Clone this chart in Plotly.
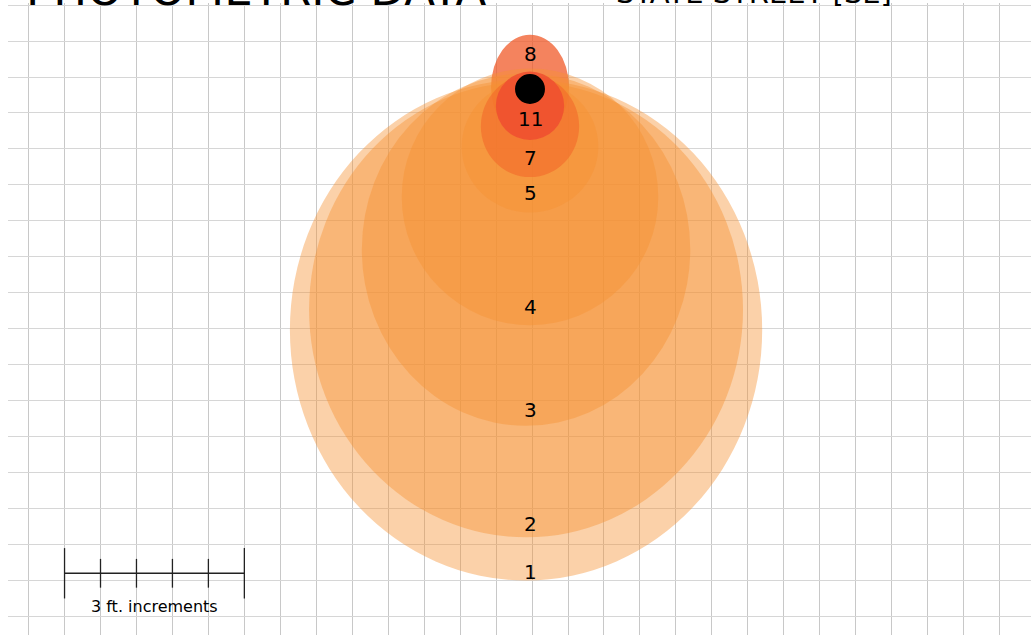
import plotly.graph_objects as go

# ---- data (feet, luminaire at origin) ----
levels = ["1", "2", "3", "4", "5", "7", "8", "11"]
center_x = [-0.33, -0.33, -0.33, 0.0, 0.0, 0.0, 0.0, 0.0]
center_y = [-20.1, -18.4, -13.4, -9.0, -4.8, -3.1, 0.17, -1.4]
radius_x = [19.7, 18.1, 13.7, 10.7, 5.7, 4.1, 3.25, 2.85]
radius_y = [20.9, 19.0, 14.7, 10.7, 5.5, 4.25, 4.35, 2.85]
label_y = [-40.3, -36.25, -26.75, -18.2, -8.67, -5.75, 2.9, -2.5]
scale_ticks_ft = [0, 3, 6, 9, 12, 15]

fills = {
    "1": "rgba(246,146,50,0.42)",
    "2": "rgba(246,146,50,0.42)",
    "3": "rgba(246,146,50,0.42)",
    "4": "rgba(246,146,50,0.42)",
    "5": "rgba(246,146,50,0.42)",
    "7": "rgba(242,100,40,0.55)",
    "8": "rgba(240,90,40,0.75)",
    "11": "rgba(238,78,48,0.85)",
}
draw_order = ["8", "1", "2", "3", "4", "5", "7", "11"]

PXFT = 11.987
fig = go.Figure()
fig.add_trace(go.Scatter(x=[0], y=[0], mode="markers", marker=dict(size=1, opacity=0),
                         hoverinfo="skip", showlegend=False))

shapes = []
for lv in draw_order:
    i = levels.index(lv)
    shapes.append(dict(type="circle", xref="x", yref="y",
                       x0=center_x[i] - radius_x[i], x1=center_x[i] + radius_x[i],
                       y0=center_y[i] - radius_y[i], y1=center_y[i] + radius_y[i],
                       fillcolor=fills[lv], line=dict(width=0), layer="above"))
# luminaire dot
shapes.append(dict(type="circle", xref="x", yref="y", x0=-1.25, x1=1.25, y0=-1.25, y1=1.25,
                   fillcolor="black", line=dict(width=0), layer="above"))

# scale bar
sb_x0 = 0.17 - 39
sb_y = -40.4
shapes.append(dict(type="line", xref="x", yref="y", x0=sb_x0, x1=sb_x0 + scale_ticks_ft[-1],
                   y0=sb_y, y1=sb_y, line=dict(color="#222", width=1.3), layer="above"))
for k, t in enumerate(scale_ticks_ft):
    h = 2.1 if k in (0, len(scale_ticks_ft) - 1) else 1.2
    shapes.append(dict(type="line", xref="x", yref="y", x0=sb_x0 + t, x1=sb_x0 + t,
                       y0=sb_y - h, y1=sb_y + h, line=dict(color="#222", width=1.3), layer="above"))

annotations = []
for i, lv in enumerate(levels):
    annotations.append(dict(x=0, y=label_y[i], xref="x", yref="y", text=lv, showarrow=False,
                            font=dict(size=20, color="black", family="DejaVu Sans")))
annotations.append(dict(x=sb_x0 + scale_ticks_ft[-1] / 2, y=-43.2, xref="x", yref="y",
                        text="3 ft. increments", showarrow=False,
                        font=dict(size=16, color="black", family="DejaVu Sans")))
annotations.append(dict(x=0.0157, y=0.977, xref="paper", yref="paper", xanchor="left", yanchor="bottom",
                        text="PHOTOMETRIC DATA", showarrow=False,
                        font=dict(size=45, color="black", family="DejaVu Sans")))
annotations.append(dict(x=0.592, y=0.985, xref="paper", yref="paper", xanchor="left", yanchor="bottom",
                        text="STATE STREET [SE]", showarrow=False,
                        font=dict(size=29, color="black", family="DejaVu Sans")))

fig.update_layout(
    width=1031, height=635,
    margin=dict(l=8, r=0, t=3, b=0),
    paper_bgcolor="white", plot_bgcolor="white",
    shapes=shapes, annotations=annotations, showlegend=False,
    xaxis=dict(range=[(8 - 530) / PXFT, (1031 - 530) / PXFT], tick0=0.17, dtick=3,
               showgrid=True, gridcolor="#c8c8c8", gridwidth=1, showticklabels=False,
               zeroline=False, showline=False, ticks="", fixedrange=True),
    yaxis=dict(range=[-(635 - 89) / PXFT, (89 - 3) / PXFT], tick0=1, dtick=3,
               showgrid=True, gridcolor="#d6d6d6", gridwidth=1, showticklabels=False,
               zeroline=False, showline=False, ticks="", fixedrange=True),
)

fig.write_html("out.html", config={"displayModeBar": False},
               post_script="document.body.style.margin='0';document.body.style.overflow='hidden';")
